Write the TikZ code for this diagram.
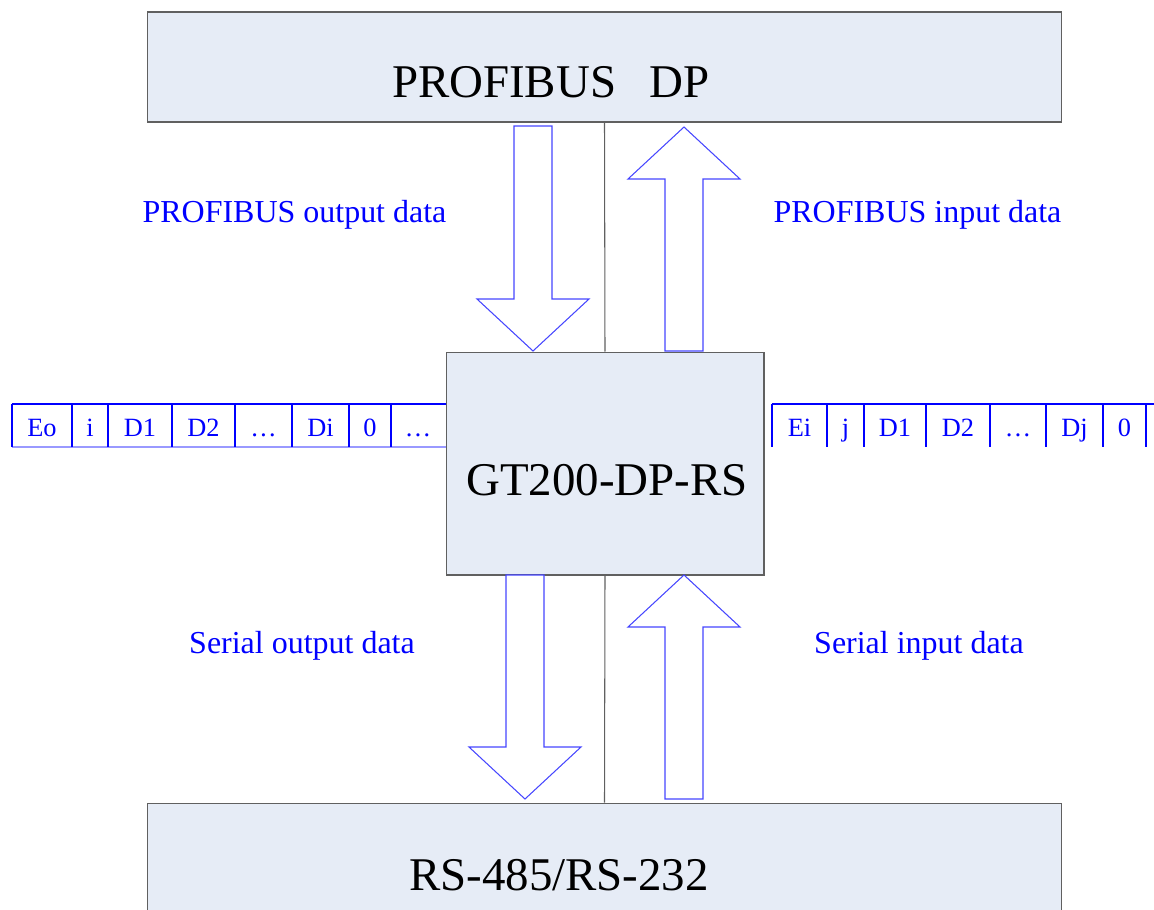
\documentclass[tikz,border=0pt]{standalone}
\usepackage{fontspec}
\setmainfont{Liberation Serif}
\definecolor{boxfill}{RGB}{230,236,246}
\definecolor{boxline}{RGB}{96,96,96}
\definecolor{arrline}{RGB}{70,70,255}
\begin{document}
\begin{tikzpicture}[x=0.02cm, y=-0.02cm,
    box/.style={draw=boxline, fill=boxfill, line width=0.6pt, inner sep=0pt},
    bigtext/.style={font=\fontsize{26.7}{32}\selectfont, inner sep=0pt},
    flowtext/.style={font=\fontsize{18.2}{22}\selectfont, text=blue, anchor=base, inner sep=0pt},
    celltext/.style={font=\fontsize{15}{18}\selectfont, text=blue, anchor=base, inner sep=0pt},
    cellline/.style={draw=blue, line width=0.6pt},
    sepline/.style={draw=boxline, line width=0.6pt},
    fatarr/.style={draw=arrline, fill=white, line width=0.6pt, line join=miter}]
    \useasboundingbox (0,0) rectangle (1154,910);
    \clip (0,0) rectangle (1154,910);

    % Fat arrow: x, tail y, tip y
    \newcommand{\fatarrow}[3]{%
        \pgfmathsetmacro{\hb}{#3-52*sign(#3-#2)}
        \draw[fatarr] ({#1-19},#2) -- ({#1-19},\hb) -- ({#1-56},\hb) -- (#1,#3)
            -- ({#1+56},\hb) -- ({#1+19},\hb) -- ({#1+19},#2) -- cycle;}

    % Boxes
    \node[box, minimum width=18.3cm, minimum height=2.2cm] (top) at (604.5,67) {};
    \node[box, minimum width=6.36cm, minimum height=4.46cm] (mid) at (605,463.5) {};
    \node[box, minimum width=18.3cm, minimum height=4cm] (bot) at (604.5,903) {};
    \node[bigtext] (toptext) at (551,82) {PROFIBUS\hspace{0.72em}DP};
    \node[bigtext] (midtext) at (607,480) {GT200-DP-RS};
    \node[bigtext] (bottext) at (559,875) {RS-485/RS-232};

    % Separators
    \draw[sepline] (top.south) -- (mid.north);
    \draw[sepline] (mid.south) -- (bot.north);

    % Data arrows
    \fatarrow{533}{126}{351}
    \fatarrow{684}{351}{127}
    \fatarrow{525}{575}{799}
    \fatarrow{684}{799}{575}

    % Arrow labels
    \node[flowtext] (pout) at (294.5,222) {PROFIBUS output data};
    \node[flowtext] (pin) at (917.5,222) {PROFIBUS input data};
    \node[flowtext] (sout) at (302,653) {Serial output data};
    \node[flowtext] (sin) at (919,653) {Serial input data};

    % Output frame
    \draw[cellline] (12,404) -- (mid.west |- 0,404);
    \draw[draw=blue!40, line width=0.6pt] (12,447) -- (mid.west |- 0,447);
    \foreach \a/\b/\t [count=\i] in {12/72/Eo, 72/108/i, 108/172/D1, 172/235/D2,
        235/292/…, 292/349/Di, 349/391/0, 391/445/…} {
        \draw[cellline] (\a,404) -- (\a,447);
        \node[celltext] (lc\i) at ({(\a+\b)/2},436) {\t};
    }

    % Input frame
    \draw[cellline] (772,404) -- (1160,404);
    \foreach \a/\b/\t [count=\i] in {772/827/Ei, 827/864/j, 864/926/D1, 926/990/D2,
        990/1046/…, 1046/1103/Dj, 1103/1146/0} {
        \draw[cellline] (\a,404) -- (\a,447);
        \node[celltext] (rc\i) at ({(\a+\b)/2},436) {\t};
    }
    \draw[cellline] (1146,404) -- (1146,447);
\end{tikzpicture}
\end{document}
